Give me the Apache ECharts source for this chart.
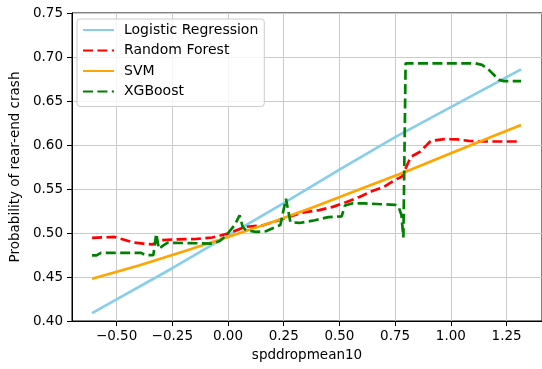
<!DOCTYPE html>
<html>
<head>
<meta charset="utf-8">
<script src="https://cdn.jsdelivr.net/npm/echarts@6/dist/echarts.min.js"></script>
<style>html,body{margin:0;padding:0;background:#fff;}#c{width:542px;height:369px;}</style>
</head>
<body>
<div id="c"></div>
<script>
// ---- data ----
const seriesNames = ['Logistic Regression', 'Random Forest', 'SVM', 'XGBoost'];
const xTicks = [-0.5, -0.25, 0, 0.25, 0.5, 0.75, 1.0, 1.25];

const lrX = [-0.61, -0.5, -0.25, 0, 0.25, 0.5, 0.75, 1.0, 1.315];
const lrY = [0.409, 0.4245, 0.460, 0.497, 0.534, 0.572, 0.609, 0.643, 0.686];

const rfX = [-0.61, -0.51, -0.47, -0.42, -0.38, -0.34, -0.30, -0.25, -0.14, -0.07, 0, 0.08, 0.16, 0.27, 0.33, 0.41, 0.47, 0.53, 0.59, 0.65, 0.70, 0.75, 0.78, 0.80, 0.82, 0.86, 0.89, 0.91, 0.97, 1.03, 1.08, 1.15, 1.315];
const rfY = [0.4945, 0.4955, 0.4926, 0.489, 0.488, 0.487, 0.4918, 0.4926, 0.4933, 0.4949, 0.4994, 0.507, 0.509, 0.518, 0.523, 0.526, 0.5297, 0.535, 0.541, 0.548, 0.5525, 0.5605, 0.564, 0.575, 0.5865, 0.592, 0.5996, 0.6047, 0.6067, 0.6063, 0.6047, 0.604, 0.604];

const svmX = [-0.61, -0.4, -0.2, 0, 0.2, 0.4, 0.6, 0.8, 1.0, 1.2, 1.315];
const svmY = [0.448, 0.463, 0.479, 0.4955, 0.5125, 0.531, 0.5505, 0.570, 0.5905, 0.611, 0.6226];

const xgbX = [-0.61, -0.59, -0.57, -0.39, -0.37, -0.335, -0.322, -0.31, -0.29, -0.27, -0.07, -0.037, -0.008, 0.03, 0.052, 0.066, 0.081, 0.126, 0.17, 0.22, 0.235, 0.26, 0.28, 0.32, 0.39, 0.45, 0.51, 0.525, 0.556, 0.615, 0.75, 0.765, 0.778, 0.787, 0.797, 1.11, 1.14, 1.164, 1.194, 1.216, 1.238, 1.315];
const xgbY = [0.4745, 0.4745, 0.4774, 0.4774, 0.4749, 0.4749, 0.499, 0.482, 0.486, 0.489, 0.488, 0.491, 0.4975, 0.509, 0.520, 0.507, 0.503, 0.5013, 0.502, 0.5076, 0.509, 0.539, 0.5124, 0.5114, 0.5145, 0.518, 0.519, 0.5313, 0.5336, 0.5336, 0.532, 0.530, 0.5207, 0.495, 0.6928, 0.6928, 0.691, 0.687, 0.6795, 0.674, 0.6726, 0.6726];

// ---- chart ----
const pairs = (xs, ys) => xs.map((x, i) => [x, ys[i]]);
const FONT = 'DejaVu Sans';
const dash = [10, 4.4];
const chart = echarts.init(document.getElementById('c'), null, {renderer: 'canvas'});
const fmtNum = v => v.toFixed(2).replace('-', '\u2212');

chart.setOption({
  animation: false,
  backgroundColor: '#fff',
  textStyle: {fontFamily: FONT},
  grid: {left: 71, top: 13, width: 474, height: 308, show: true, borderColor: '#000', borderWidth: 1, backgroundColor: 'transparent'},
  legend: {
    orient: 'vertical', left: 77, top: 19,
    padding: [4, 6, 8, 5],
    itemWidth: 31, itemHeight: 14, itemGap: 6.5,
    backgroundColor: 'rgba(255,255,255,0.8)',
    borderColor: '#cccccc', borderWidth: 1, borderRadius: 3,
    itemStyle: {opacity: 0},
    textStyle: {fontFamily: FONT, fontSize: 14, color: '#000', padding: [0, 0, 0, 5]},
    data: seriesNames
  },
  xAxis: {
    type: 'value', min: -0.70, max: 1.409,
    name: 'spddropmean10', nameLocation: 'middle', nameGap: 27,
    nameTextStyle: {fontFamily: FONT, fontSize: 13.5, color: '#000'},
    axisLine: {show: true, onZero: false, lineStyle: {color: '#000', width: 1}},
    axisTick: {show: true, length: 5, lineStyle: {color: '#000'}, customValues: xTicks},
    axisLabel: {fontFamily: FONT, fontSize: 13.5, color: '#000', margin: 8, customValues: xTicks, formatter: fmtNum},
    splitLine: {show: true, lineStyle: {color: '#cbcbcb', width: 1}}
  },
  yAxis: {
    type: 'value', min: 0.40, max: 0.75, interval: 0.05,
    name: 'Probability of rear-end crash', nameLocation: 'middle', nameGap: 50,
    nameTextStyle: {fontFamily: FONT, fontSize: 13.5, color: '#000'},
    axisLine: {show: true, onZero: false, lineStyle: {color: '#000', width: 1}},
    axisTick: {show: true, length: 5, lineStyle: {color: '#000'}},
    axisLabel: {fontFamily: FONT, fontSize: 13.5, color: '#000', margin: 9, showMinLabel: true, showMaxLabel: true, formatter: v => v.toFixed(2)},
    splitLine: {show: true, lineStyle: {color: '#cbcbcb', width: 1}}
  },
  series: [
    {name: seriesNames[0], type: 'line', symbol: 'none', data: pairs(lrX, lrY), lineStyle: {color: '#87CEEB', width: 2.7}, itemStyle: {color: '#87CEEB'}},
    {name: seriesNames[1], type: 'line', symbol: 'none', data: pairs(rfX, rfY), lineStyle: {color: '#ff0000', width: 2.7, type: dash}, itemStyle: {color: '#ff0000'}},
    {name: seriesNames[2], type: 'line', symbol: 'none', data: pairs(svmX, svmY), lineStyle: {color: '#FFA500', width: 2.7}, itemStyle: {color: '#FFA500'}},
    {name: seriesNames[3], type: 'line', symbol: 'none', data: pairs(xgbX, xgbY), lineStyle: {color: '#008000', width: 2.7, type: dash}, itemStyle: {color: '#008000'}}
  ]
});
</script>
</body>
</html>
